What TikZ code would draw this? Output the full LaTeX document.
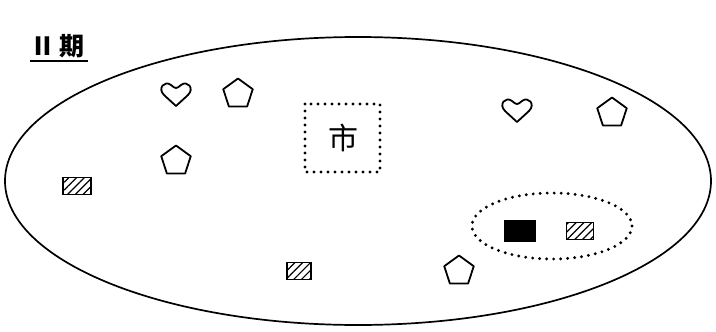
\documentclass[tikz,border=0pt]{standalone}
\usepackage{fontspec}
\newfontfamily\cjk{Noto Sans CJK SC}
\usetikzlibrary{shapes.geometric,patterns.meta}
\begin{document}
\begin{tikzpicture}[x=1pt,y=-1pt,
  penta/.style={regular polygon,regular polygon sides=5,draw,line width=1.8pt,line join=round,minimum size=31pt,inner sep=0pt},
  hatchbox/.style={draw,line width=1.8pt,pattern={Lines[angle=45,distance=5.5pt,line width=1.2pt]},minimum width=24pt,minimum height=17pt,inner sep=0pt},
  blackbox/.style={draw,line width=1.5pt,fill=black,minimum width=30pt,minimum height=20pt,inner sep=0pt},
  dotline/.style={line width=3.2pt,line cap=round,dash pattern=on 0pt off 7pt},
  heart/.pic={\draw[line width=1.8pt,line join=round] (0,12) -- (-12,1) .. controls (-19,-6) and (-11,-14) .. (-5,-9) .. controls (-3,-7) and (-1,-6) .. (0,-6) .. controls (1,-6) and (3,-7) .. (5,-9) .. controls (11,-14) and (19,-6) .. (12,1) -- cycle;}
]
\useasboundingbox (0,0) rectangle (716,332);
% title
\node[anchor=base west,inner sep=0pt,font=\cjk\bfseries\fontsize{25}{25}\selectfont] (title) at (30,56) {Ⅱ\,期};
\draw[line width=1.5pt] (30,61) -- (88,61) coordinate (ul);
% main ellipse
\draw[line width=1.7pt] (358,181) ellipse [x radius=353, y radius=144];
% hearts
\pic at (176,94) {heart};
\pic at (517,110) {heart};
% pentagons
\node[penta] (p1) at (238,94) {};
\node[penta] (p2) at (612,113) {};
\node[penta] (p3) at (176,161) {};
\node[penta] (p4) at (459,271) {};
% hatched boxes
\node[hatchbox,minimum width=28pt] (h1) at (77,186) {};
\node[hatchbox] (h2) at (299,271) {};
\node[hatchbox,minimum width=27pt] (h3) at (580,231) {};
\node[blackbox] (b1) at (520,231) {};
% city square
\draw[dotline] (305,104) rectangle (380,172);
\node[font=\cjk\fontsize{30}{30}\selectfont] (city) at (343,138) {市};
% dotted ellipse
\draw[dotline] (552,226) ellipse [x radius=80, y radius=33];
\end{tikzpicture}
\end{document}
